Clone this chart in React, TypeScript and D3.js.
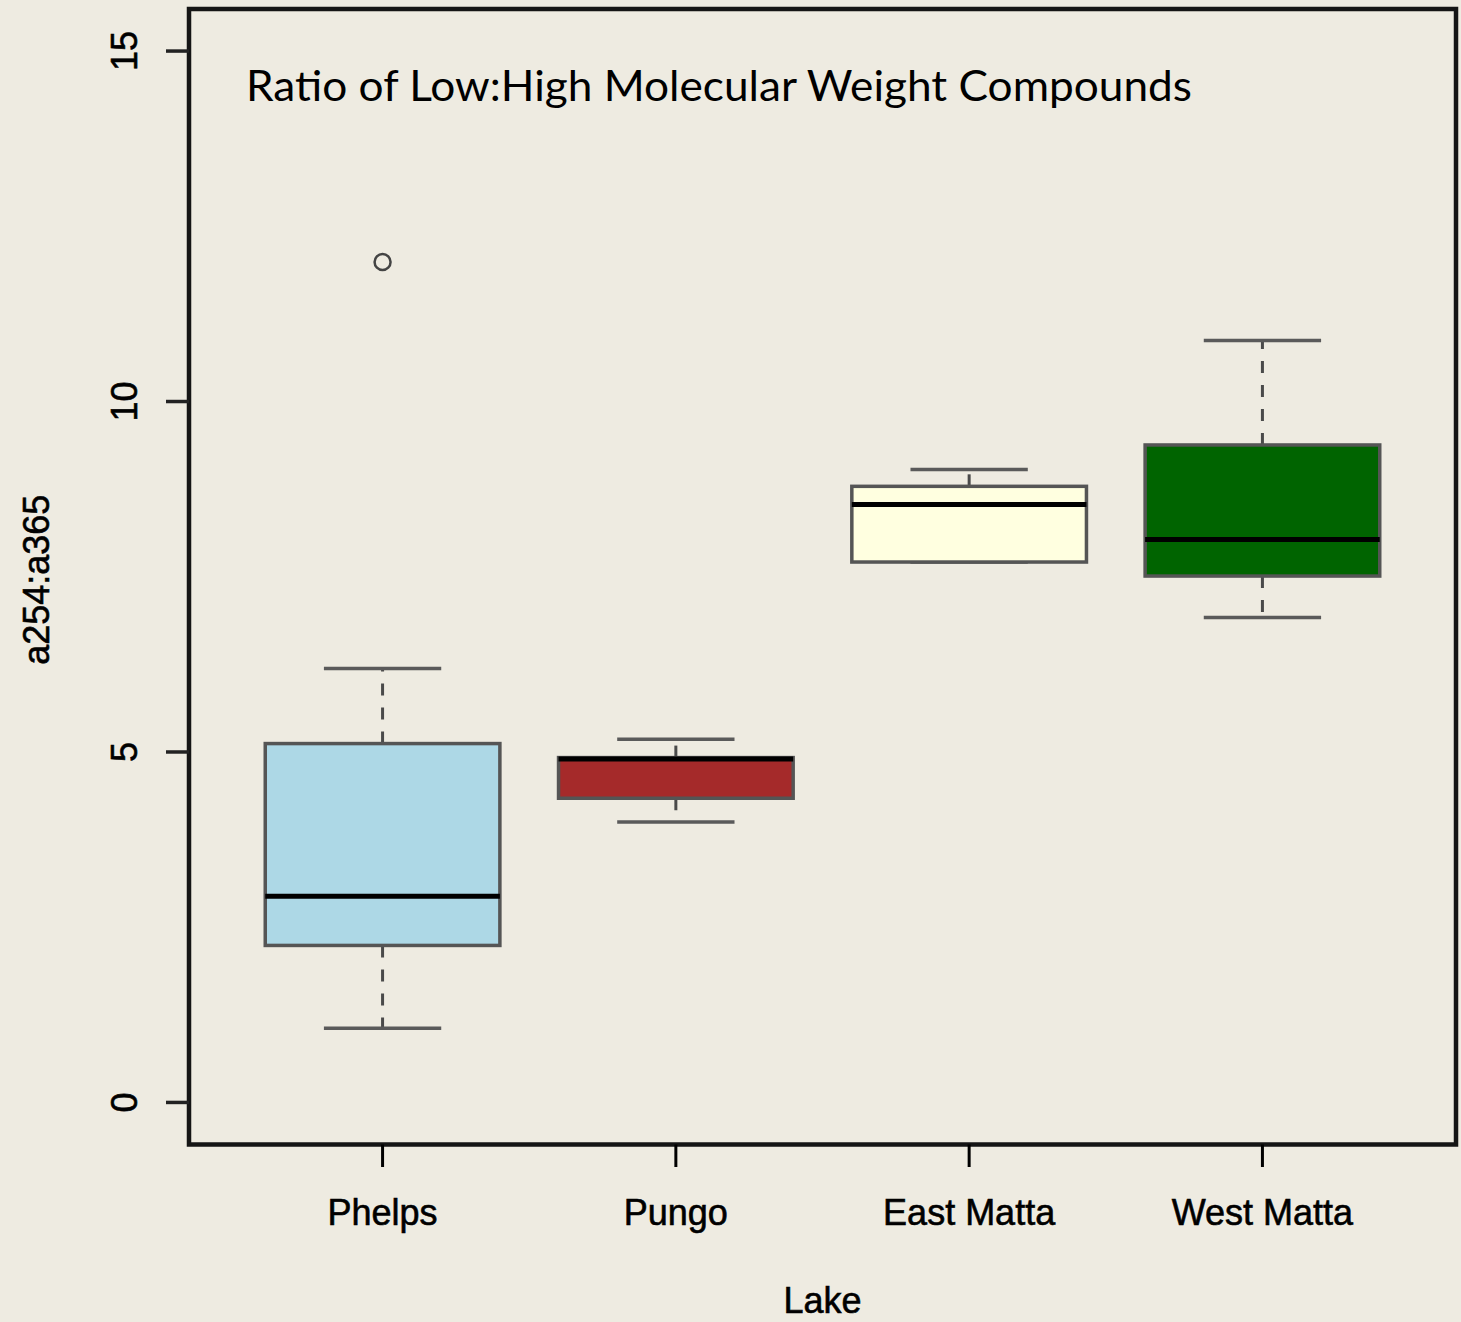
import React from "react";
import * as d3 from "d3";

const categories = ["Phelps", "Pungo", "East Matta", "West Matta"];
const lowerWhisker = [1.06, 4.0, 7.71, 6.92];
const q1 = [2.24, 4.34, 7.71, 7.51];
const median = [2.94, 4.9, 8.53, 8.03];
const q3 = [5.12, 4.92, 8.79, 9.38];
const upperWhisker = [6.19, 5.18, 9.03, 10.87];
const fills = ["#ADD8E6", "#A52A2A", "#FFFFE0", "#006400"];
const outliers = [{ group: 0, value: 11.99 }];
const yTicks = [0, 5, 10, 15];

const W = 1461;
const H = 1322;
const frame = { left: 189, right: 1456, top: 9, bottom: 1144.5 };
const AXIS_FONT = "'Liberation Sans', Arial, Helvetica, sans-serif";

export default function App() {
  const x = d3.scaleLinear().domain([0.34, 4.66]).range([frame.left, frame.right]);
  const y = d3.scaleLinear().domain([-0.6, 15.6]).range([frame.bottom, frame.top]);
  const halfBox = x(1.4) - x(1);
  const halfCap = x(1.2) - x(1);

  return (
    <svg
      width={W}
      height={H}
      style={{ position: "absolute", left: 0, top: 0, display: "block" }}
    >
      <rect x={0} y={0} width={W} height={H} fill="#EEEBE1" />

      {categories.map((c, i) => {
        const cx = x(i + 1);
        return (
          <g key={c}>
            <line
              x1={cx} x2={cx} y1={y(q3[i])} y2={y(upperWhisker[i])}
              stroke="#4a4a4a" strokeWidth={3} strokeDasharray="12,12"
            />
            <line
              x1={cx} x2={cx} y1={y(q1[i])} y2={y(lowerWhisker[i])}
              stroke="#4a4a4a" strokeWidth={3} strokeDasharray="12,12"
            />
            <line
              x1={cx - halfCap} x2={cx + halfCap} y1={y(upperWhisker[i])} y2={y(upperWhisker[i])}
              stroke="#5a5a5a" strokeWidth={3.5}
            />
            <line
              x1={cx - halfCap} x2={cx + halfCap} y1={y(lowerWhisker[i])} y2={y(lowerWhisker[i])}
              stroke="#5a5a5a" strokeWidth={3.5}
            />
            <rect
              x={cx - halfBox}
              y={y(q3[i])}
              width={2 * halfBox}
              height={y(q1[i]) - y(q3[i])}
              fill={fills[i]}
              stroke="#555"
              strokeWidth={3.5}
            />
            <line
              x1={cx - halfBox} x2={cx + halfBox} y1={y(median[i])} y2={y(median[i])}
              stroke="#000" strokeWidth={5}
            />
          </g>
        );
      })}

      {outliers.map((o, k) => (
        <circle
          key={k}
          cx={x(o.group + 1)}
          cy={y(o.value)}
          r={8}
          fill="none"
          stroke="#444"
          strokeWidth={2.5}
        />
      ))}

      {/* frame */}
      <rect
        x={frame.left}
        y={frame.top}
        width={frame.right - frame.left}
        height={frame.bottom - frame.top}
        fill="none"
        stroke="#151515"
        strokeWidth={4.5}
      />

      {/* y axis ticks */}
      {yTicks.map((t) => (
        <g key={t}>
          <line x1={166} x2={frame.left} y1={y(t)} y2={y(t)} stroke="#222" strokeWidth={3.5} />
          <text
            transform={`translate(137,${y(t)}) rotate(-90)`}
            textAnchor="middle"
            fontFamily={AXIS_FONT}
            fontSize={36}
            fill="#000"
            stroke="#000"
            strokeWidth={0.6}
          >
            {t}
          </text>
        </g>
      ))}

      {/* x axis ticks */}
      {categories.map((c, i) => (
        <g key={c}>
          <line x1={x(i + 1)} x2={x(i + 1)} y1={frame.bottom} y2={1167} stroke="#000" strokeWidth={3} />
          <text
            x={x(i + 1)}
            y={1225}
            textAnchor="middle"
            fontFamily={AXIS_FONT}
            fontSize={36}
            fill="#000"
            stroke="#000"
            strokeWidth={0.6}
          >
            {c}
          </text>
        </g>
      ))}

      <text
        x={(frame.left + frame.right) / 2}
        y={1313}
        textAnchor="middle"
        fontFamily={AXIS_FONT}
        fontSize={36}
        fill="#000"
        stroke="#000"
        strokeWidth={0.6}
      >
        Lake
      </text>

      <text
        transform={`translate(49,${(frame.top + frame.bottom) / 2 + 3}) rotate(-90)`}
        textAnchor="middle"
        fontFamily={AXIS_FONT}
        fontSize={36}
        fill="#000"
        stroke="#000"
        strokeWidth={0.6}
      >
        a254:a365
      </text>

      <text
        x={246}
        y={101}
        fontFamily="Lato, 'Open Sans', sans-serif"
        fontSize={43}
        fill="#000"
        textLength={946}
        lengthAdjust="spacingAndGlyphs"
      >
        Ratio of Low:High Molecular Weight Compounds
      </text>
    </svg>
  );
}
